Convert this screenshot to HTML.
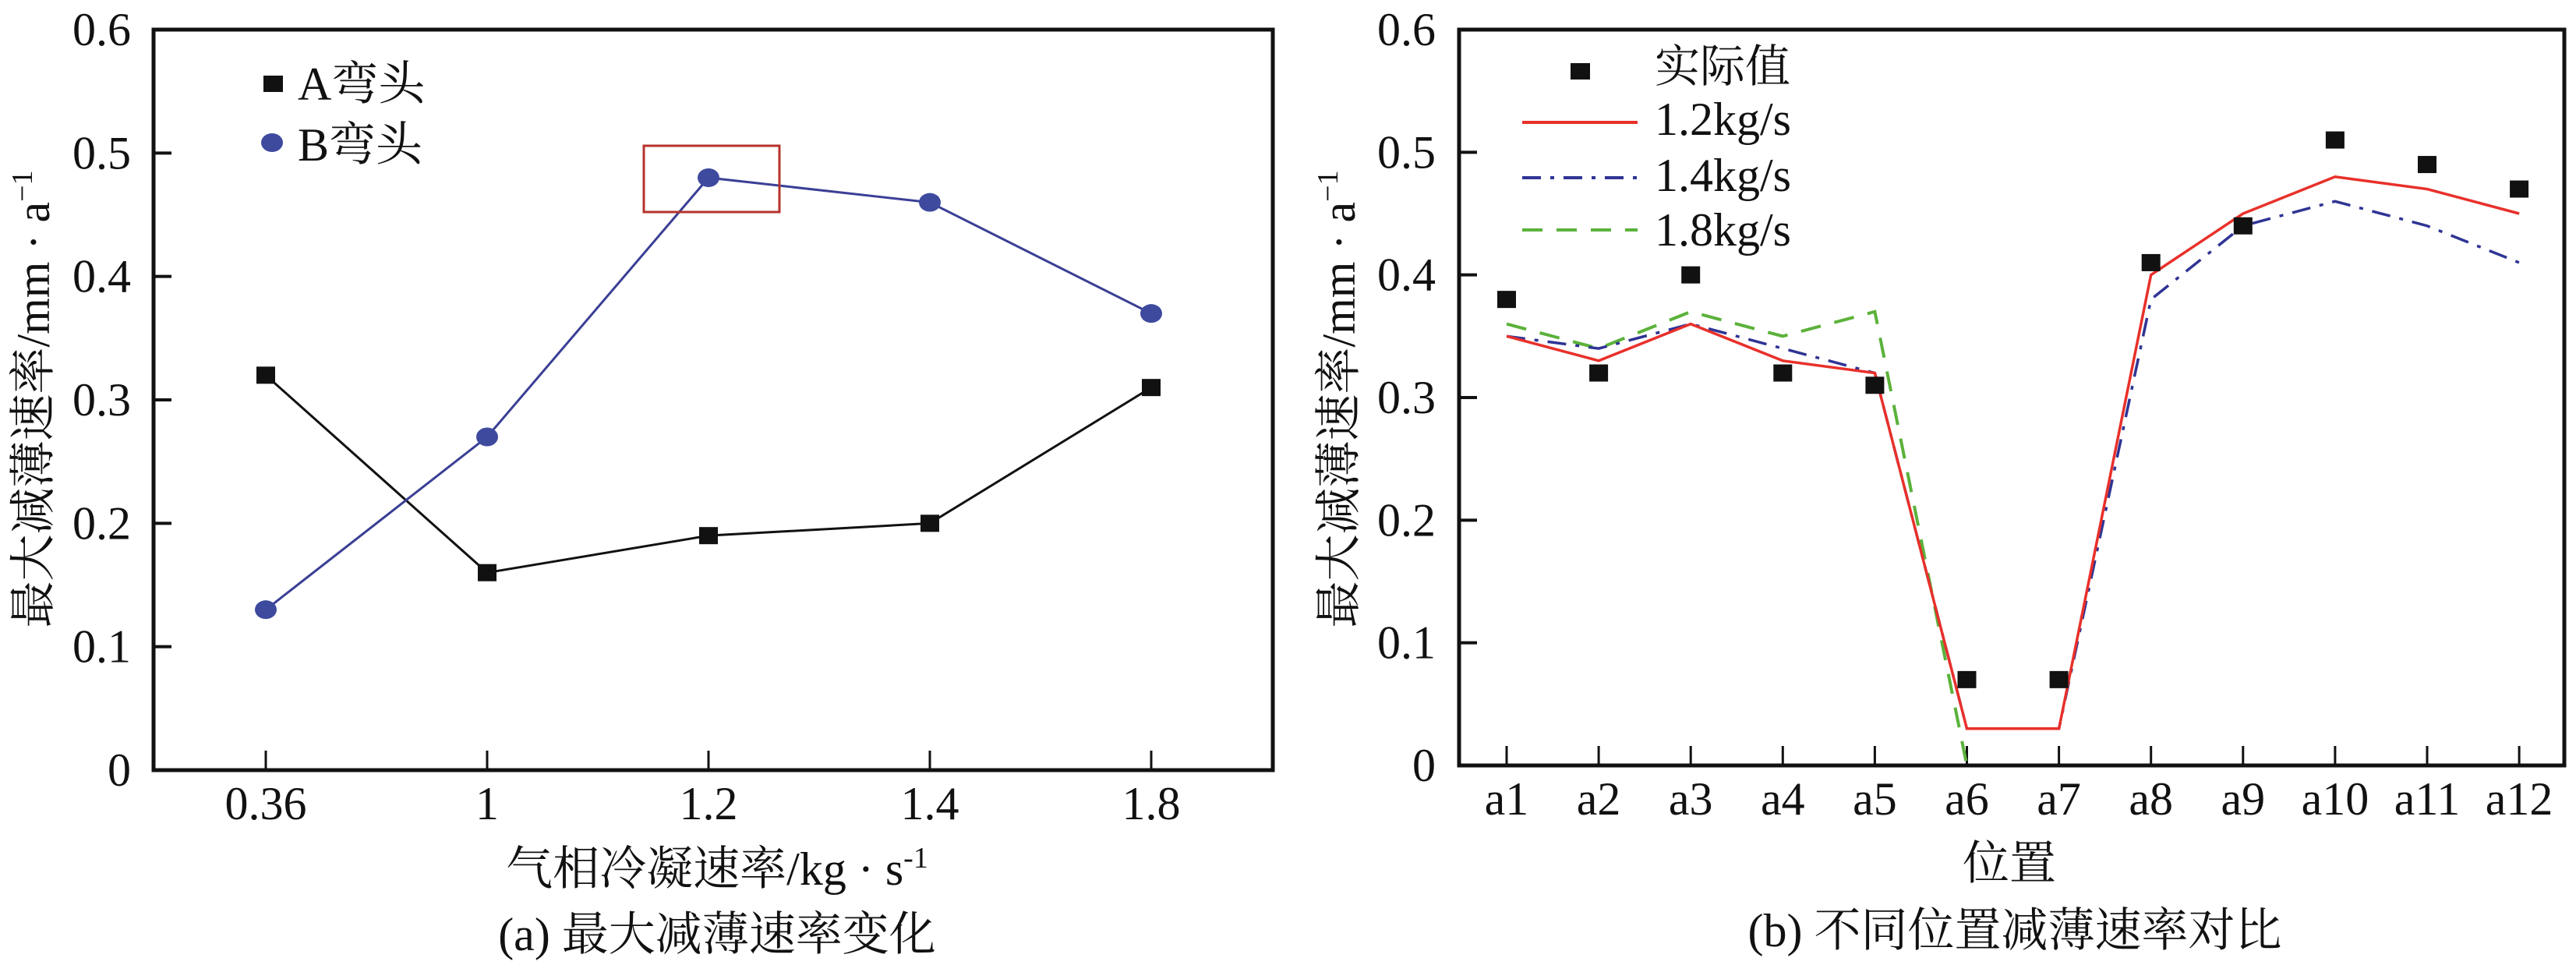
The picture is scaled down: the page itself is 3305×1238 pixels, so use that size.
<!DOCTYPE html>
<html><head><meta charset="utf-8"><style>
html,body{margin:0;padding:0;background:#fff;}
svg{display:block;}
text{font-family:"Liberation Serif","Noto Serif CJK SC","Noto Sans CJK SC",serif;fill:#111;}
</style></head><body>
<svg id="s" width="3305" height="1238" viewBox="0 0 3305 1238" xmlns="http://www.w3.org/2000/svg">
<g id="left"></g>
<g id="right"></g>
</svg>
<script>
// ---- left chart data ----
const leftCategories = ["0.36","1","1.2","1.4","1.8"];
const seriesA = [0.32,0.16,0.19,0.20,0.31];
const seriesB = [0.13,0.27,0.48,0.46,0.37];
const yTicks = [0,0.1,0.2,0.3,0.4,0.5,0.6];
const yTickLabels = ["0","0.1","0.2","0.3","0.4","0.5","0.6"];
// ---- right chart data ----
const rightCategories = ["a1","a2","a3","a4","a5","a6","a7","a8","a9","a10","a11","a12"];
const actualValues = [0.38,0.32,0.40,0.32,0.31,0.07,0.07,0.41,0.44,0.51,0.49,0.47];
const series12 = [0.35,0.33,0.36,0.33,0.32,0.03,0.03,0.40,0.45,0.48,0.47,0.45];
const series14 = [0.35,0.34,0.36,0.34,0.32,0.03,0.03,0.38,0.44,0.46,0.44,0.41];
const series18 = [0.36,0.34,0.37,0.35,0.37,0.0];

const NS="http://www.w3.org/2000/svg";
function mk(parent,tag,attrs,txt){const e=document.createElementNS(NS,tag);for(const k in attrs)e.setAttribute(k,attrs[k]);if(txt!==undefined)e.textContent=txt;parent.appendChild(e);return e;}

function axesFrame(g,L,R,T,B,xs,yScale,cats,ylabX){
  const fr=mk(g,'rect',{x:L,y:T,width:R-L,height:B-T,fill:'none',stroke:'#111','stroke-width':5});
  
  
  yTicks.forEach((v,i)=>{
    const y=yScale(v);
    if(i>0&&i<yTicks.length-1){const t=mk(g,'line',{x1:L,x2:L+23,y1:y,y2:y,stroke:'#111','stroke-width':4});
      
      }
    const tl=mk(g,'text',{x:ylabX,y:y+20,'font-size':60,'text-anchor':'end'},yTickLabels[i]);
    
    
  });
  cats.forEach((c,i)=>{
    const x=xs(i);
    const t=mk(g,'line',{x1:x,x2:x,y1:B,y2:B-25,stroke:'#111','stroke-width':3});
    
    
    const tl=mk(g,'text',{x:x,y:B+63,'font-size':60,'text-anchor':'middle'},c);
    
    
  });
}
function poly(g,xs,ys,vals,attrs,name){
  const pts=vals.map((v,i)=>xs(i)+','+ys(v)).join(' ');
  const p=mk(g,'polyline',Object.assign({points:pts,fill:'none'},attrs));
  
  
  return p;
}

// ---- LEFT ----
(function(){
  const g=document.getElementById('left');
  const L=197,R=1633,T=38,B=988;
  const xs=i=>341+i*284;
  const ys=v=>B-(v/0.6)*(B-T);
  axesFrame(g,L,R,T,B,xs,ys,leftCategories,168);
  poly(g,xs,ys,seriesA,{stroke:'#111','stroke-width':3},'series-a-line');
  poly(g,xs,ys,seriesB,{stroke:'#3a3f95','stroke-width':3},'series-b-line');
  seriesA.forEach((v,i)=>{const m=mk(g,'rect',{x:xs(i)-12,y:ys(v)-11,width:24,height:22,fill:'#111'});
    
    });
  seriesB.forEach((v,i)=>{const m=mk(g,'ellipse',{cx:xs(i),cy:ys(v),rx:14,ry:12,fill:'#3d4a9e'});
    
    });
  const hl=mk(g,'rect',{x:826,y:187,width:174,height:85,fill:'none',stroke:'#b5332b','stroke-width':3});
  
  
  const lg=mk(g,'g',{});
  
  
  const la=mk(lg,'rect',{x:338,y:97,width:25,height:21,fill:'#111'});
  
  
  const lta=mk(lg,'text',{x:382,y:128,'font-size':60},'A弯头');
  
  
  const lb=mk(lg,'ellipse',{cx:349,cy:183,rx:14,ry:12,fill:'#3d4a9e'});
  
  
  const ltb=mk(lg,'text',{x:382,y:206,'font-size':60},'B弯头');
  
  
  const xt=mk(g,'text',{x:920,y:1135,'font-size':60,'text-anchor':'middle'});
  xt.innerHTML='气相冷凝速率/kg · s<tspan dy="-22" font-size="38">-1</tspan>';
  
  
  const yt=mk(g,'text',{x:0,y:0,'font-size':60,'text-anchor':'middle',transform:'translate(63,512) rotate(-90)'});
  yt.innerHTML='最大减薄速率/mm · a<tspan dy="-22" font-size="38">−1</tspan>';
  
  
  const cap=mk(g,'text',{x:920,y:1219,'font-size':60,'text-anchor':'middle'},'(a) 最大减薄速率变化');
  
  
})();

// ---- RIGHT ----
(function(){
  const g=document.getElementById('right');
  const L=1872,R=3290,T=38,B=982;
  const xs=i=>1933+i*118.1;
  const ys=v=>B-(v/0.6)*(B-T);
  axesFrame(g,L,R,T,B,xs,ys,rightCategories,1842);
  poly(g,xs,ys,series18,{stroke:'#5bb23a','stroke-width':4,'stroke-dasharray':'26,18'},'series-1-8-line');
  poly(g,xs,ys,series14,{stroke:'#2f3494','stroke-width':3.5,'stroke-dasharray':'24,12,5,12'},'series-1-4-line');
  poly(g,xs,ys,series12,{stroke:'#e8302a','stroke-width':3.5},'series-1-2-line');
  actualValues.forEach((v,i)=>{const m=mk(g,'rect',{x:xs(i)-12,y:ys(v)-11,width:24,height:22,fill:'#111'});
    
    });
  const lg=mk(g,'g',{});
  
  
  const m0=mk(lg,'rect',{x:2015,y:81,width:25,height:21,fill:'#111'});
  
  
  const t0=mk(lg,'text',{x:2123,y:105,'font-size':58},'实际值');
  
  
  const rows=[[157,'#e8302a','none','1.2kg/s',173],[228,'#2f3494','24,12,5,12','1.4kg/s',245],[295,'#5bb23a','26,18','1.8kg/s',315]];
  rows.forEach(r=>{
    const l=mk(lg,'line',{x1:1953,x2:2101,y1:r[0],y2:r[0],stroke:r[1],'stroke-width':4,'stroke-dasharray':r[2]});
    
    
    const t=mk(lg,'text',{x:2123,y:r[4],'font-size':60},r[3]);
    
    
  });
  const xt=mk(g,'text',{x:2578,y:1128,'font-size':60,'text-anchor':'middle'},'位置');
  
  
  const yt=mk(g,'text',{x:0,y:0,'font-size':60,'text-anchor':'middle',transform:'translate(1738,512) rotate(-90)'});
  yt.innerHTML='最大减薄速率/mm · a<tspan dy="-22" font-size="38">−1</tspan>';
  
  
  const cap=mk(g,'text',{x:2585,y:1214,'font-size':60,'text-anchor':'middle'},'(b) 不同位置减薄速率对比');
  
  
})();
</script>
</body></html>
